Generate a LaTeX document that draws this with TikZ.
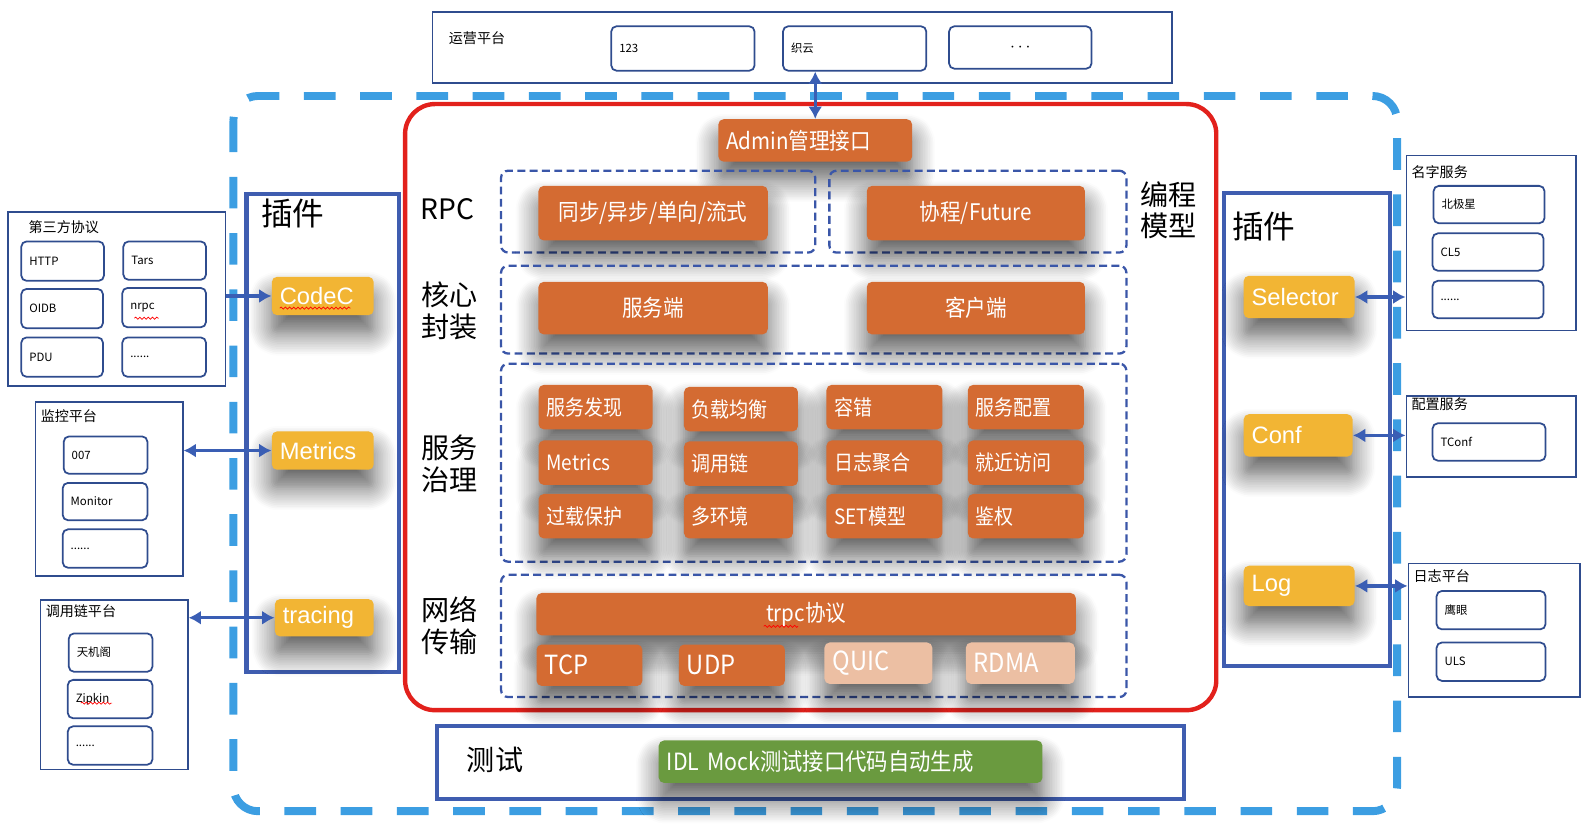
\documentclass[tikz,border=0pt]{standalone}
\usepackage{fontspec}
\setmainfont{Noto Sans CJK SC}
\newfontfamily\condf{Noto Sans CJK SC}[FakeStretch=0.9]
\newfontfamily\plainf{Liberation Sans}
\usetikzlibrary{arrows.meta,shadows.blur,decorations.pathmorphing}

\definecolor{tOrange}{RGB}{212,107,50}
\definecolor{tPale}{RGB}{236,191,163}
\definecolor{tYellow}{RGB}{242,181,52}
\definecolor{tGreen}{RGB}{106,154,63}
\definecolor{tRed}{RGB}{226,33,28}
\definecolor{tSky}{RGB}{60,158,226}
\definecolor{tBlue}{RGB}{63,93,176}
\definecolor{tDash}{RGB}{58,86,168}
\definecolor{tNavy}{RGB}{47,76,142}
\definecolor{tArrow}{RGB}{58,94,180}

\tikzset{
	box/.style 2 args={minimum width=#1*0.0202cm, minimum height=#2*0.0202cm, inner sep=0pt},
	lbox/.style 2 args={text width=(#1-16)*0.0202cm, inner xsep=0.16cm, inner ysep=0pt, minimum height=#2*0.0202cm, align=left},
	shade/.style={blur shadow={shadow xshift=0pt, shadow yshift=-10pt, shadow blur radius=13pt, shadow opacity=65, shadow blur steps=14}},
	orangebox/.style={fill=tOrange, rounded corners=3pt, text=white, shade, font=\condf\fontsize{12}{14}\selectfont},
	palebox/.style={orangebox, fill=tPale},
	yellowbox/.style={fill=tYellow, rounded corners=3pt, text=white, shade, font=\plainf\fontsize{13.5}{16}\selectfont},
	platform/.style={draw=tNavy, line width=0.8pt},
	subbox/.style={draw=tNavy, line width=1pt, rounded corners=3pt, font=\fontsize{6.5}{8}\selectfont},
	ptitle/.style={anchor=west, inner sep=0pt, font=\fontsize{8}{10}\selectfont},
	plugin/.style={draw=tBlue, line width=2.4pt},
	grp/.style={draw=tDash, line width=1.3pt, dash pattern=on 4.5pt off 2.5pt, rounded corners=4pt},
	side/.style={align=center, inner sep=0pt, font=\fontsize{16}{18}\selectfont},
	arr/.style={draw=tArrow, line width=1.8pt, >={Latex[length=7pt,width=8pt]}},
	spell/.style={draw=red, line width=0.4pt, decorate, decoration={snake, amplitude=0.6pt, segment length=2.4pt}}
}

\begin{document}
\begin{tikzpicture}[x=0.0202cm, y=-0.0202cm]
	\useasboundingbox (0,0) rectangle (1568,818);
	\begin{pgfinterruptboundingbox}

	% outer frame and core
	\draw[tSky, line width=4.5pt, dash pattern=on 18pt off 14pt, rounded corners=14pt] (231,95) rectangle (1383,803);
	\draw[tRed, line width=2.5pt, rounded corners=17pt] (401,103) rectangle (1204,703);

	% ops platform
	\node[platform, box={732}{70}] (ops) at (794,47){};
	\node[ptitle] (opslbl) at (444,38){运营平台};
	\node[subbox, lbox={142}{44}] (s123) at (676,48){123};
	\node[subbox, lbox={142}{44}] (szy) at (846,48){织云};
	\node[subbox, box={141}{42}, font=\fontsize{10}{12}\selectfont] (sdots) at (1010,47){$\cdots$};

	\node[orangebox, lbox={192}{42}, font=\condf\fontsize{13}{15}\selectfont] (admin) at (807,139){Admin管理接口};
	\draw[arr, <->] (admin.north) -- (admin.north |- szy.south);

	% RPC
	\node[side] (rpclbl) at (443,207){RPC};
	\node[grp, box={311}{81}] (grpsync) at (651.5,209.5){};
	\node[grp, box={294}{81}] (grpcoro) at (968,209.5){};
	\node[orangebox, box={227}{54}, font=\condf\fontsize{13}{15}\selectfont] (sync) at (646.5,211){同步/异步/单向/流式};
	\node[orangebox, box={216}{54}, font=\condf\fontsize{13}{15}\selectfont] (coro) at (966,211){协程/Future};
	\node[side] (modellbl) at (1157,208){编程\\模型};

	% core
	\node[side] (corelbl) at (445,308){核心\\封装};
	\node[grp, box={619}{87}] (grpcore) at (805.5,306.5){};
	\node[orangebox, box={227}{52}, font=\condf\fontsize{13}{15}\selectfont] (server) at (646.5,305){服务端};
	\node[orangebox, box={216}{52}, font=\condf\fontsize{13}{15}\selectfont] (client) at (966,305){客户端};

	% governance
	\node[side] (govlbl) at (445,459){服务\\治理};
	\node[grp, box={619}{196}] (grpgov) at (805.5,458){};
	\node[orangebox, lbox={113}{44}] (discover) at (589.5,403){服务发现};
	\node[orangebox, lbox={113}{44}] (balance) at (733.5,405){负载均衡};
	\node[orangebox, lbox={115}{44}] (fault) at (875.5,403){容错};
	\node[orangebox, lbox={115}{44}] (svccfg) at (1015.5,403){服务配置};
	\node[orangebox, lbox={113}{44}] (gmetrics) at (589.5,458){Metrics};
	\node[orangebox, lbox={113}{44}] (chain) at (733.5,459){调用链};
	\node[orangebox, lbox={115}{44}] (logagg) at (875.5,458){日志聚合};
	\node[orangebox, lbox={115}{44}] (nearby) at (1015.5,458){就近访问};
	\node[orangebox, lbox={113}{44}] (overload) at (589.5,511){过载保护};
	\node[orangebox, lbox={108}{44}] (multienv) at (731,511){多环境};
	\node[orangebox, lbox={115}{44}] (setmodel) at (875.5,511){SET模型};
	\node[orangebox, lbox={115}{44}] (auth) at (1015.5,511){鉴权};

	% network
	\node[side] (netlbl) at (445,619){网络\\传输};
	\node[grp, box={619}{121}] (grpnet) at (805.5,629.5){};
	\node[orangebox, box={534}{42}, font=\condf\fontsize{13}{15}\selectfont] (trpc) at (798,608){trpc协议};
	\draw[spell] (756,620) -- (790,620);
	\node[orangebox, lbox={105}{41}, font=\condf\fontsize{15}{17}\selectfont] (tcp) at (583.5,658.5){TCP};
	\node[orangebox, lbox={105}{41}, font=\condf\fontsize{15}{17}\selectfont] (udp) at (724.5,658.5){UDP};
	\node[palebox, lbox={107}{41}, font=\condf\fontsize{15}{17}\selectfont] (quic) at (869.5,656.5){QUIC};
	\node[palebox, lbox={108}{41}, font=\condf\fontsize{15}{17}\selectfont] (rdma) at (1010,656.5){RDMA};

	% test
	\node[draw=tBlue, line width=2.2pt, box={739}{72}] (test) at (802.5,755){};
	\node[side] (testlbl) at (490,752){测试};
	\node[orangebox, fill=tGreen, lbox={380}{42}, font=\condf\fontsize{13.5}{15}\selectfont] (idl) at (842,754){IDL Mock测试接口代码自动生成};

	% left plugins
	\node[plugin, box={151}{473}] (lplug) at (319.5,428.5){};
	\node[side, font=\fontsize{18}{20}\selectfont] (lpluglbl) at (290,211){插件};
	\node[yellowbox, lbox={101}{38}] (codec) at (319.5,293){CodeC};
	\draw[spell] (277,305) -- (347,305);
	\node[yellowbox, lbox={101}{38}] (metrics) at (319.5,446){Metrics};
	\node[yellowbox, lbox={98}{37}] (tracing) at (321,611.5){tracing};

	% right plugins
	\node[plugin, box={164}{468}] (rplug) at (1294,425){};
	\node[side, font=\fontsize{18}{20}\selectfont] (rpluglbl) at (1251,224){插件};
	\node[yellowbox, lbox={110}{42}] (selector) at (1286,294){Selector};
	\node[yellowbox, lbox={108}{42}] (conf) at (1285,431){Conf};
	\node[yellowbox, lbox={110}{40}] (log) at (1286,580){Log};

	% third party protocols
	\node[platform, box={215}{172}] (proto) at (115.5,296){};
	\node[ptitle] (protolbl) at (28,225){第三方协议};
	\node[subbox, lbox={82}{39}] (http) at (62,258.5){HTTP};
	\node[subbox, lbox={82}{38}] (tars) at (163,258){Tars};
	\node[subbox, lbox={81}{39}] (oidb) at (61.5,305.5){OIDB};
	\node[subbox, lbox={83}{39}] (nrpc) at (162.5,304.5){nrpc};
	\draw[spell] (133,315) -- (157,315);
	\node[subbox, lbox={81}{39}] (pdu) at (61.5,353.5){PDU};
	\node[subbox, lbox={83}{39}] (protodots) at (162.5,353.5){......};

	% monitor
	\node[platform, box={146}{172}] (mon) at (108,484){};
	\node[ptitle] (monlbl) at (40,412){监控平台};
	\node[subbox, lbox={83}{37}] (m007) at (104.5,450.5){007};
	\node[subbox, lbox={84}{37}] (monitor) at (104,496.5){Monitor};
	\node[subbox, lbox={84}{38}] (mondots) at (104,543){......};

	% tracing platform
	\node[platform, box={146}{168}] (trc) at (113,678){};
	\node[ptitle] (trclbl) at (45,605){调用链平台};
	\node[subbox, lbox={83}{38}] (tjg) at (109.5,646){天机阁};
	\node[subbox, lbox={84}{38}] (zipkin) at (109,692){Zipkin};
	\draw[spell] (80,696) -- (111,696);
	\node[subbox, lbox={84}{38}] (trcdots) at (109,738){......};

	% name service
	\node[platform, box={168}{173}] (names) at (1476,240.5){};
	\node[ptitle] (nameslbl) at (1397,170){名字服务};
	\node[subbox, lbox={110}{37}] (polaris) at (1474,202.5){北极星};
	\node[subbox, lbox={110}{37}] (cl5) at (1473,249.5){CL5};
	\node[subbox, lbox={110}{37}] (namesdots) at (1473,296.5){......};

	% config service
	\node[platform, box={168}{80}] (cfg) at (1476,432){};
	\node[ptitle] (cfglbl) at (1397,400){配置服务};
	\node[subbox, lbox={112}{37}] (tconf) at (1474,437.5){TConf};

	% log platform
	\node[platform, box={170}{132}] (logp) at (1479,624){};
	\node[ptitle] (logplbl) at (1399,570){日志平台};
	\node[subbox, lbox={108}{38}] (eagle) at (1476,604){鹰眼};
	\node[subbox, lbox={108}{38}] (uls) at (1476,655){ULS};

	% connectors
	\draw[arr, ->] (proto.east |- codec) -- (codec.west);
	\draw[arr, <->] (mon.east |- metrics) -- (metrics.west);
	\draw[arr, <->] (trc.east |- tracing) -- (tracing.west);
	\draw[arr, <->] (selector.east) -- (names.west |- selector);
	\draw[arr, <->] (conf.east) -- (cfg.west |- conf);
	\draw[arr, <->] (log.east) -- (logp.west |- log);

	\end{pgfinterruptboundingbox}
\end{tikzpicture}
\end{document}
